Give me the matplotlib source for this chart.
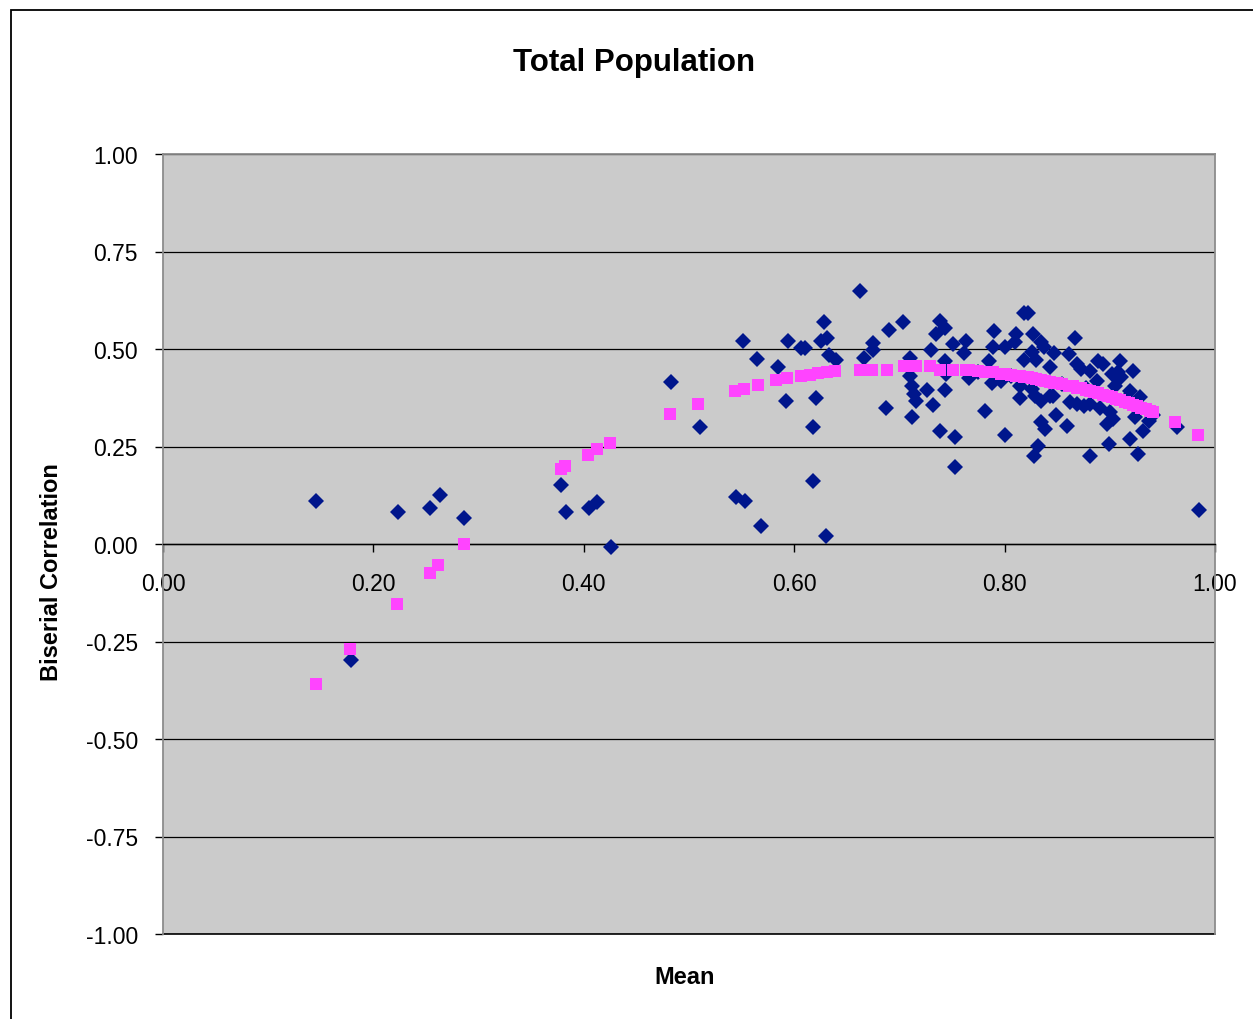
import matplotlib
matplotlib.use("Agg")
import matplotlib.pyplot as plt
from matplotlib.patches import Rectangle
from matplotlib.ticker import FuncFormatter, MultipleLocator

plt.rcParams['font.family'] = ['Liberation Sans', 'DejaVu Sans']
plt.rcParams['axes.unicode_minus'] = False

# item statistics: mean score vs biserial correlation
item_mean = [
    0.145, 0.179, 0.223, 0.254, 0.263, 0.286, 0.378, 0.383, 0.405, 0.413,
    0.426, 0.483, 0.510, 0.545, 0.551, 0.553, 0.565, 0.568, 0.585, 0.592,
    0.594, 0.606, 0.610, 0.618, 0.618, 0.621, 0.625, 0.628, 0.630, 0.631,
    0.633, 0.640, 0.663, 0.666, 0.675, 0.675, 0.687, 0.690, 0.703, 0.710,
    0.710, 0.712, 0.712, 0.714, 0.716, 0.726, 0.730, 0.732, 0.735, 0.739,
    0.739, 0.743, 0.743, 0.743, 0.744, 0.751, 0.753, 0.753, 0.761, 0.763,
    0.766, 0.775, 0.781, 0.785, 0.788, 0.789, 0.790, 0.797, 0.800, 0.800,
    0.806, 0.810, 0.811, 0.815, 0.815, 0.818, 0.822, 0.818, 0.826, 0.826,
    0.827, 0.828, 0.829, 0.830, 0.832, 0.835, 0.835, 0.835, 0.837, 0.838,
    0.843, 0.843, 0.846, 0.847, 0.849, 0.855, 0.859, 0.861, 0.862, 0.867,
    0.869, 0.869, 0.873, 0.875, 0.877, 0.881, 0.881, 0.881, 0.888, 0.889,
    0.891, 0.894, 0.897, 0.899, 0.900, 0.902, 0.903, 0.905, 0.908, 0.910,
    0.911, 0.914, 0.919, 0.919, 0.922, 0.924, 0.927, 0.929, 0.932, 0.937,
    0.941, 0.964, 0.985,
]
item_biserial = [
    0.110, -0.297, 0.082, 0.092, 0.126, 0.067, 0.151, 0.082, 0.092, 0.108,
    -0.008, 0.415, 0.300, 0.120, 0.521, 0.109, 0.474, 0.045, 0.453, 0.367,
    0.521, 0.502, 0.502, 0.301, 0.162, 0.374, 0.521, 0.570, 0.020, 0.527,
    0.485, 0.472, 0.650, 0.476, 0.515, 0.497, 0.348, 0.549, 0.568, 0.478,
    0.432, 0.406, 0.326, 0.385, 0.367, 0.396, 0.498, 0.357, 0.538, 0.573,
    0.289, 0.553, 0.468, 0.396, 0.436, 0.513, 0.274, 0.198, 0.491, 0.521,
    0.425, 0.440, 0.342, 0.468, 0.413, 0.504, 0.547, 0.419, 0.506, 0.279,
    0.430, 0.517, 0.538, 0.406, 0.374, 0.592, 0.592, 0.472, 0.493, 0.397,
    0.538, 0.226, 0.380, 0.472, 0.252, 0.517, 0.367, 0.312, 0.504, 0.295,
    0.453, 0.380, 0.380, 0.491, 0.331, 0.410, 0.303, 0.487, 0.363, 0.527,
    0.462, 0.359, 0.449, 0.355, 0.400, 0.444, 0.359, 0.226, 0.419, 0.470,
    0.350, 0.462, 0.308, 0.256, 0.338, 0.436, 0.321, 0.406, 0.440, 0.470,
    0.427, 0.370, 0.393, 0.269, 0.444, 0.325, 0.231, 0.376, 0.291, 0.316,
    0.330, 0.301, 0.088,
]

# expected biserial values
expected_mean = [
    0.145, 0.178, 0.222, 0.254, 0.261, 0.286, 0.378, 0.382, 0.404, 0.413,
    0.425, 0.482, 0.509, 0.544, 0.552, 0.566, 0.583, 0.593, 0.606, 0.615,
    0.623, 0.631, 0.639, 0.663, 0.674, 0.688, 0.704, 0.716, 0.729, 0.739,
    0.751, 0.763, 0.766, 0.775, 0.781, 0.785, 0.789, 0.797, 0.800, 0.806,
    0.811, 0.815, 0.818, 0.822, 0.826, 0.830, 0.835, 0.838, 0.843, 0.847,
    0.850, 0.855, 0.861, 0.865, 0.869, 0.873, 0.877, 0.881, 0.885, 0.889,
    0.894, 0.898, 0.902, 0.906, 0.910, 0.914, 0.918, 0.922, 0.926, 0.930,
    0.934, 0.938, 0.941, 0.962, 0.984,
]
expected_biserial = [
    -0.359, -0.269, -0.154, -0.074, -0.054, 0.000, 0.192, 0.200, 0.228, 0.244,
    0.259, 0.333, 0.359, 0.393, 0.397, 0.408, 0.421, 0.425, 0.430, 0.434,
    0.438, 0.440, 0.444, 0.447, 0.447, 0.447, 0.456, 0.456, 0.456, 0.447,
    0.447, 0.447, 0.446, 0.444, 0.442, 0.441, 0.440, 0.437, 0.436, 0.434,
    0.432, 0.430, 0.428, 0.427, 0.425, 0.423, 0.420, 0.418, 0.416, 0.414,
    0.412, 0.409, 0.406, 0.404, 0.401, 0.399, 0.396, 0.393, 0.390, 0.387,
    0.383, 0.380, 0.377, 0.373, 0.369, 0.365, 0.361, 0.357, 0.353, 0.349,
    0.345, 0.341, 0.338, 0.314, 0.280,
]

W, H = 1253, 1020
fig = plt.figure(figsize=(W / 100, H / 100), dpi=100)
fig.patch.set_facecolor('white')

# chart frame (runs off the right and bottom edge)
fig.patches.append(Rectangle((11 / W, -0.1), 1.2, 1.1 - 11 / H,
                             transform=fig.transFigure, fill=False,
                             edgecolor='black', linewidth=1.3))

ax = fig.add_axes([163 / W, 1 - 935 / H, (1215 - 163) / W, (935 - 155) / H])
ax.set_facecolor('#CBCBCB')

ax.plot(item_mean, item_biserial, linestyle='none', marker='D',
        markersize=8.0, color='#00168C', markeredgewidth=0, zorder=3)
ax.plot(expected_mean, expected_biserial, linestyle='none', marker='s',
        markersize=9.0, color='#FF44FF', markeredgewidth=0, zorder=4)

ax.set_xlim(0, 1)
ax.set_ylim(-1, 1)

ax.yaxis.set_major_locator(MultipleLocator(0.25))
ax.xaxis.set_major_locator(MultipleLocator(0.2))
fmt = FuncFormatter(lambda v, pos: f'{v:.2f}')
ax.yaxis.set_major_formatter(fmt)
ax.xaxis.set_major_formatter(fmt)

ax.grid(True, axis='y', color='black', linewidth=0.9)
ax.set_axisbelow(True)
ax.axhline(-1, color='black', linewidth=1.2, clip_on=False, zorder=2)

# x axis crosses at zero
ax.spines['bottom'].set_position(('data', 0))
ax.spines['bottom'].set_color('black')
ax.spines['bottom'].set_linewidth(1.0)
for side in ['left', 'right', 'top']:
    ax.spines[side].set_color('#8C8C8C')
    ax.spines[side].set_linewidth(1.3)

ax.tick_params(axis='y', direction='out', length=6, width=1, colors='black',
               labelsize=16.5, pad=12)
ax.tick_params(axis='x', direction='out', length=6, width=1, colors='black',
               labelsize=16.5, pad=14)

fig.text(634 / W, 1 - 63 / H, 'Total Population', ha='center', va='center',
         fontsize=22.5, fontweight='bold')
fig.text(685 / W, 1 - 978 / H, 'Mean', ha='center', va='center',
         fontsize=17, fontweight='bold')
fig.text(52 / W, 1 - 572 / H, 'Biserial Correlation', ha='center', va='center',
         rotation=90, fontsize=17, fontweight='bold')

fig.savefig('out.png', dpi=100, facecolor='white')
